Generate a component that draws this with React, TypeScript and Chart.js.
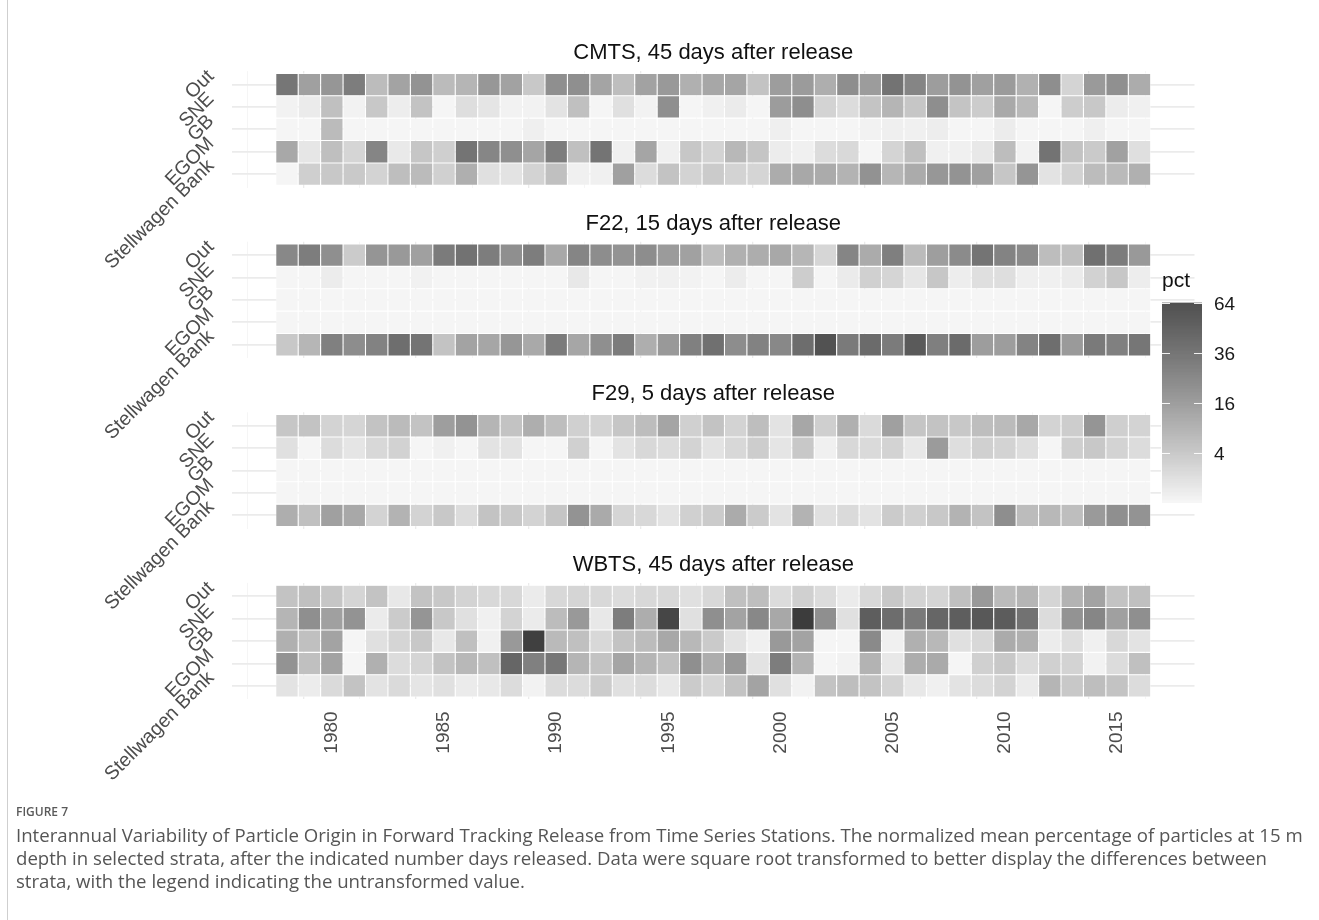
import React, { useEffect, useRef } from "react";
import { Chart, registerables } from "chart.js";

Chart.register(...registerables);

// ---------------- data ----------------
const years = [
  1978, 1979, 1980, 1981, 1982, 1983, 1984, 1985, 1986, 1987, 1988, 1989, 1990,
  1991, 1992, 1993, 1994, 1995, 1996, 1997, 1998, 1999, 2000, 2001, 2002, 2003,
  2004, 2005, 2006, 2007, 2008, 2009, 2010, 2011, 2012, 2013, 2014, 2015, 2016,
];
// bottom -> top
const strata = ["Stellwagen Bank", "EGOM", "GB", "SNE", "Out"];
const xGridYears = [
  1977.5, 1980, 1982.5, 1985, 1987.5, 1990, 1992.5, 1995, 1997.5, 2000, 2002.5,
  2005, 2007.5, 2010, 2012.5, 2015, 2017.5,
];
const xLabelYears = [1980, 1985, 1990, 1995, 2000, 2005, 2010, 2015];
const legendBreaks = [4, 16, 36, 64];
const legendMax = 64;

const panelTitles = [
  "CMTS, 45 days after release",
  "F22, 15 days after release",
  "F29, 5 days after release",
  "WBTS, 45 days after release",
];

// CMTS (pct)
const cmtsOut = [23.1, 9.8, 12.4, 20.4, 4.3, 9.1, 13.3, 4.5, 5.5, 12.1, 9.4, 2.7, 14.4, 14.4, 8.9, 4.0, 9.4, 11.6, 6.4, 8.2, 8.6, 3.3, 10.6, 11.1, 6.8, 14.8, 10.9, 24.3, 17.6, 10.6, 13.3, 9.8, 11.1, 6.2, 14.8, 1.4, 11.4, 14.1, 7.2];
const cmtsSNE = [0.01, 0.12, 3.7, 0.01, 2.7, 0.07, 3.3, 0, 0.65, 0.32, 0.01, 0.01, 0.42, 3.7, 0, 0.56, 0.01, 14.4, 0, 0.03, 0.12, 0, 10.9, 14.8, 1.5, 0.8, 3.1, 5.5, 2.9, 14.8, 3.1, 2.2, 7.8, 4.8, 0, 2.1, 2.7, 0.1, 0.03];
const cmtsGB = [0, 0, 4.5, 0, 0, 0, 0, 0, 0, 0, 0, 0.05, 0, 0, 0, 0, 0, 0, 0, 0, 0, 0, 0.05, 0, 0, 0, 0.01, 0.05, 0.03, 0.07, 0, 0, 0.1, 0, 0, 0, 0.05, 0, 0];
const cmtsEGOM = [8.0, 0.28, 3.85, 1.32, 17.6, 0.17, 2.9, 1.85, 24.0, 17.3, 14.4, 8.6, 20.4, 3.7, 24.0, 0.03, 8.6, 0.03, 2.8, 1.5, 4.9, 3.0, 0.1, 0.03, 0.8, 1.0, 0, 1.4, 3.7, 0.03, 0.03, 0.21, 4.15, 0.01, 24.3, 3.3, 2.4, 9.6, 0.6];
const cmtsSB = [0, 1.85, 2.7, 2.55, 1.5, 4.0, 4.45, 1.8, 6.6, 0.56, 0.42, 1.5, 3.7, 0.03, 0.03, 9.8, 0.8, 3.3, 1.5, 2.3, 1.5, 1.3, 7.2, 8.0, 7.4, 5.85, 13.6, 5.3, 7.4, 12.1, 13.3, 9.8, 2.9, 12.7, 0.42, 1.6, 4.3, 4.6, 6.4];

// F22 (pct)
const f22Out = [16.6, 20.4, 14.4, 2.3, 12.7, 11.6, 9.8, 21.2, 24.7, 20.4, 14.4, 20.4, 8.0, 17.6, 15.1, 13.3, 15.1, 11.1, 9.6, 4.15, 6.4, 7.0, 8.0, 5.3, 1.25, 17.6, 7.4, 19.8, 4.45, 10.3, 15.7, 24.0, 18.3, 16.0, 4.15, 3.85, 25.5, 20.8, 11.6];
const f22SNE = [0, 0, 0.1, 0, 0, 0, 0.02, 0, 0, 0, 0, 0, 0, 0.21, 0, 0, 0.02, 0.03, 0.01, 0, 0.1, 0, 0, 2.1, 0, 0.12, 1.8, 1.3, 0.28, 2.8, 0.08, 0.6, 0.65, 0.05, 0.03, 0.12, 1.6, 2.8, 0.07];
const f22GB = [0, 0, 0, 0, 0, 0, 0, 0, 0, 0, 0, 0, 0, 0, 0, 0, 0, 0, 0, 0, 0, 0, 0, 0, 0, 0, 0, 0, 0, 0, 0, 0, 0, 0, 0, 0, 0, 0, 0];
const f22EGOM = [0, 0, 0, 0, 0, 0, 0, 0, 0, 0, 0, 0, 0, 0, 0, 0, 0, 0, 0, 0, 0, 0, 0, 0, 0, 0, 0, 0, 0, 0, 0, 0, 0, 0, 0, 0, 0, 0, 0];
const f22SB = [2.7, 5.3, 19.4, 15.1, 18.6, 26.4, 24.0, 3.3, 9.1, 8.4, 12.4, 7.8, 21.2, 8.4, 14.4, 20.8, 6.8, 11.6, 19.4, 25.5, 15.1, 18.6, 16.6, 26.8, 39.8, 21.5, 27.7, 21.2, 35.6, 19.8, 27.7, 10.6, 10.6, 18.3, 26.4, 11.35, 21.5, 19.4, 23.1];

// F29 (pct)
const f29Out = [2.9, 3.3, 1.5, 1.3, 3.3, 4.45, 3.3, 10.3, 13.3, 5.45, 3.3, 6.8, 4.0, 1.8, 1.5, 2.9, 4.15, 8.6, 1.8, 3.3, 1.5, 4.0, 0.42, 8.2, 1.85, 6.4, 0.95, 9.8, 3.0, 3.3, 2.7, 4.0, 4.45, 8.0, 1.5, 2.1, 12.7, 1.85, 1.5];
const f29SNE = [0.56, 0, 0.8, 0.32, 1.1, 1.6, 0, 0.03, 0, 0.42, 0.42, 0, 0, 1.8, 0, 0.42, 1.1, 0.8, 1.5, 0.42, 1.1, 2.1, 0.32, 2.7, 0.03, 1.1, 0.95, 1.5, 0.21, 11.1, 0.7, 1.8, 1.5, 0.7, 0, 1.85, 2.7, 1.5, 0.8];
const f29GB = [0, 0, 0, 0, 0, 0, 0, 0, 0, 0, 0, 0, 0, 0, 0, 0, 0, 0, 0, 0, 0, 0, 0, 0, 0, 0, 0, 0, 0, 0, 0, 0, 0, 0, 0, 0, 0, 0, 0];
const f29EGOM = [0, 0, 0, 0, 0, 0, 0, 0, 0, 0, 0, 0, 0, 0, 0, 0, 0, 0, 0, 0, 0, 0, 0, 0, 0, 0, 0, 0, 0, 0, 0, 0, 0, 0, 0, 0, 0, 0, 0];
const f29SB = [6.8, 3.7, 9.8, 8.0, 1.5, 5.85, 1.5, 2.7, 0.8, 3.3, 2.7, 1.5, 3.0, 13.3, 7.6, 1.3, 1.1, 0.42, 1.8, 2.3, 7.4, 2.3, 0.42, 5.85, 0.56, 0.95, 0.42, 2.3, 1.8, 2.7, 5.85, 3.3, 14.8, 4.3, 4.9, 4.0, 11.35, 14.4, 13.3];

// WBTS (pct)
const wbtsOut = [3.3, 3.7, 2.9, 1.3, 3.3, 0.21, 3.3, 2.7, 1.5, 1.1, 1.1, 0.12, 1.1, 1.3, 1.1, 0.8, 1.1, 1.1, 0.56, 1.1, 3.7, 4.0, 0.8, 1.8, 0.8, 0.12, 1.1, 2.7, 1.5, 1.3, 3.7, 11.6, 4.45, 5.45, 1.3, 5.85, 9.1, 3.3, 3.7];
const wbtsSNE = [5.45, 14.4, 9.8, 13.3, 0.12, 2.3, 12.7, 2.7, 0.56, 0.03, 1.5, 0.12, 4.3, 11.6, 0.21, 20.4, 7.0, 46.8, 0.56, 14.4, 9.1, 16.6, 8.0, 53.2, 14.4, 0.56, 33.6, 26.8, 21.5, 29.8, 33.6, 36.8, 34.6, 24.7, 0.79, 13.3, 17.3, 9.8, 14.4];
const wbtsGB = [6.4, 3.7, 9.1, 0, 0.56, 1.3, 2.7, 0.21, 3.7, 0.03, 11.6, 50.5, 4.6, 3.7, 1.1, 3.3, 4.3, 8.0, 4.9, 2.4, 0.42, 0.03, 11.6, 9.1, 0, 0, 16.0, 0.03, 6.4, 4.9, 0.56, 1.1, 7.4, 6.4, 0.1, 0.65, 0.03, 1.1, 0.42];
const wbtsEGOM = [13.3, 3.7, 9.1, 0, 6.4, 0.8, 1.3, 3.3, 4.9, 3.7, 29.8, 19.4, 22.7, 5.45, 3.3, 8.6, 5.45, 3.7, 14.4, 7.0, 11.6, 0.42, 20.4, 5.85, 0, 0.01, 5.85, 0.21, 7.0, 7.6, 0, 1.8, 2.7, 0.8, 1.8, 1.5, 0.01, 0.8, 3.7];
const wbtsSB = [0.42, 0.1, 0.95, 3.3, 0.42, 0.95, 0.32, 0.56, 0.12, 0.21, 0.8, 0.01, 0.8, 0.8, 2.2, 0.56, 0.8, 0.21, 2.3, 1.3, 3.3, 9.1, 0.56, 0.01, 3.3, 4.0, 3.3, 1.5, 0.21, 0.03, 0.42, 0.8, 1.5, 0.12, 5.45, 2.7, 4.0, 3.3, 0.8];

// rows bottom -> top, matching `strata`
const panelRows = [
  [cmtsSB, cmtsEGOM, cmtsGB, cmtsSNE, cmtsOut],
  [f22SB, f22EGOM, f22GB, f22SNE, f22Out],
  [f29SB, f29EGOM, f29GB, f29SNE, f29Out],
  [wbtsSB, wbtsEGOM, wbtsGB, wbtsSNE, wbtsOut],
];

const captionLines = [
  "Interannual Variability of Particle Origin in Forward Tracking Release from Time Series Stations. The normalized mean percentage of particles at 15 m",
  "depth in selected strata, after the indicated number days released. Data were square root transformed to better display the differences between",
  "strata, with the legend indicating the untransformed value.",
];

// ---------------- layout / style ----------------
const W = 1319;
const H = 920;
const PLOT_LEFT = 232;
const PLOT_RIGHT = 1194.5;
const PANEL_TOPS = [71.1, 241.7, 412.3, 582.9];
const PANEL_H = 116.5;
const X_MIN = 1975.55;
const X_MAX = 2018.45;
const Y_MIN = 0.4;
const Y_MAX = 5.6;
const FONT = '"Liberation Sans", Arial, Helvetica, sans-serif';

// sqrt-transformed gray gradient, interpolated in CIE L*
const L_LOW = 96.5;
const L_HIGH = 18.4;
function fillFor(pct: number): string {
  const t = Math.min(1, Math.sqrt(Math.max(0, pct)) / Math.sqrt(legendMax));
  const L = L_LOW + (L_HIGH - L_LOW) * t;
  const fy = (L + 16) / 116;
  const Y = L > 8 ? fy * fy * fy : L / 903.3;
  const s = Y <= 0.0031308 ? 12.92 * Y : 1.055 * Math.pow(Y, 1 / 2.4) - 0.055;
  const g = Math.max(0, Math.min(255, Math.round(255 * s)));
  return `rgb(${g},${g},${g})`;
}

function titlePlugin(title: string) {
  return {
    id: "panelTitle",
    afterDraw(chart: any) {
      const { ctx, chartArea } = chart;
      ctx.save();
      ctx.font = `22px ${FONT}`;
      ctx.fillStyle = "#111111";
      ctx.textAlign = "center";
      ctx.textBaseline = "alphabetic";
      ctx.fillText(title, (chartArea.left + chartArea.right) / 2, chartArea.top - 12);
      ctx.restore();
    },
  };
}

const legendPlugin = {
  id: "pctColorbar",
  afterDraw(chart: any) {
    const { ctx } = chart;
    const x0 = 1162;
    const x1 = 1202;
    const yZero = 502.7;
    const unit = 25; // px per sqrt unit
    const yTop = yZero - Math.sqrt(legendMax) * unit;
    ctx.save();
    ctx.fillStyle = "#ffffff";
    ctx.fillRect(x0 - 1, yTop - 1, x1 - x0 + 2, yZero - yTop + 2);
    for (let y = yTop; y < yZero; y += 1) {
      const s = (yZero - y - 0.5) / unit;
      ctx.fillStyle = fillFor(s * s);
      ctx.fillRect(x0, y, x1 - x0, 1.05);
    }
    ctx.strokeStyle = "rgba(255,255,255,0.9)";
    ctx.lineWidth = 1;
    ctx.font = `19px ${FONT}`;
    ctx.fillStyle = "#1a1a1a";
    ctx.textAlign = "left";
    ctx.textBaseline = "middle";
    legendBreaks.forEach((b) => {
      const y = Math.round(yZero - Math.sqrt(b) * unit) + 0.5;
      ctx.beginPath();
      ctx.moveTo(x0, y);
      ctx.lineTo(x0 + 8, y);
      ctx.moveTo(x1 - 8, y);
      ctx.lineTo(x1, y);
      ctx.stroke();
      ctx.fillText(String(b), 1214, y + 1);
    });
    ctx.font = `21px ${FONT}`;
    ctx.fillStyle = "#111111";
    ctx.textBaseline = "alphabetic";
    ctx.fillText("pct", 1162, 287);
    ctx.restore();
  },
};

function makeConfig(i: number): any {
  const isLast = i === panelRows.length - 1;
  const yAxisW = 212;
  const xAxisH = isLast ? 90 : 0;
  const top = PANEL_TOPS[i];
  const plugins: any[] = [titlePlugin(panelTitles[i])];
  if (isLast) plugins.push(legendPlugin);
  return {
    type: "bar",
    data: {
      datasets: strata.map((name, r) => ({
        label: name,
        data: years.map((yr) => ({ x: yr, y: [r + 0.5, r + 1.5] })),
        backgroundColor: panelRows[i][r].map(fillFor),
        borderColor: "#ffffff",
        borderWidth: 0.55,
        borderSkipped: false,
        grouped: false,
        barPercentage: 1,
        categoryPercentage: 1,
        inflateAmount: 0,
      })),
    },
    options: {
      responsive: false,
      animation: false,
      devicePixelRatio: 1,
      events: [],
      layout: {
        padding: {
          left: PLOT_LEFT - yAxisW,
          right: W - PLOT_RIGHT,
          top,
          bottom: H - top - PANEL_H - xAxisH,
        },
      },
      plugins: {
        legend: { display: false },
        tooltip: { enabled: false },
        title: { display: false },
      },
      scales: {
        x: {
          type: "linear",
          min: X_MIN,
          max: X_MAX,
          offset: false,
          afterBuildTicks: (s: any) => {
            s.ticks = xGridYears.map((v) => ({ value: v }));
          },
          afterFit: (s: any) => {
            s.height = xAxisH;
          },
          ticks: {
            display: isLast,
            autoSkip: false,
            minRotation: 90,
            maxRotation: 90,
            padding: 12,
            color: "#4d4d4d",
            font: { family: FONT, size: 19 },
            callback: (v: any) => (xLabelYears.includes(Number(v)) ? String(v) : ""),
          },
          grid: {
            drawTicks: false,
            color: (c: any) =>
              c.tick && xLabelYears.includes(c.tick.value) ? "#ebebeb" : "#f2f2f2",
            lineWidth: (c: any) =>
              c.tick && xLabelYears.includes(c.tick.value) ? 1.3 : 0.8,
          },
          border: { display: false },
        },
        y: {
          type: "linear",
          min: Y_MIN,
          max: Y_MAX,
          afterBuildTicks: (s: any) => {
            s.ticks = strata.map((_, k) => ({ value: k + 1 }));
          },
          afterFit: (s: any) => {
            s.width = yAxisW;
          },
          ticks: {
            autoSkip: false,
            minRotation: 45,
            maxRotation: 45,
            padding: 21,
            labelOffset: -11,
            color: "#4d4d4d",
            font: { family: FONT, size: 19.5 },
            callback: (v: any) => strata[Number(v) - 1] ?? "",
          },
          grid: { drawTicks: false, color: "#ebebeb", lineWidth: 1.8 },
          border: { display: false },
        },
      },
    },
    plugins,
  };
}

function Panel({ index }: { index: number }) {
  const ref = useRef<HTMLCanvasElement | null>(null);
  useEffect(() => {
    if (!ref.current) return;
    const chart = new Chart(ref.current, makeConfig(index));
    return () => chart.destroy();
  }, [index]);
  return (
    <canvas
      ref={ref}
      width={W}
      height={H}
      style={{ position: "absolute", left: 0, top: 0, width: W, height: H }}
    />
  );
}

function captionFontSize(): number {
  try {
    const c = document.createElement("canvas");
    const ctx = c.getContext("2d");
    if (!ctx) return 15.5;
    ctx.font = '16px "Open Sans"';
    const w = ctx.measureText(captionLines[0]).width;
    return (16 * 1287) / w;
  } catch {
    return 15.5;
  }
}

export default function App() {
  const capSize = captionFontSize();
  return (
    <div
      style={{
        position: "absolute",
        left: 0,
        top: 0,
        width: W,
        height: H,
        background: "#ffffff",
        overflow: "hidden",
      }}
    >
      <div style={{ position: "absolute", left: 7, top: 0, width: 1, height: H, background: "#cfcfcf" }} />
      {panelRows.map((_, i) => (
        <Panel key={i} index={i} />
      ))}
      <div
        style={{
          position: "absolute",
          left: 16,
          top: 803,
          fontFamily: '"Open Sans", sans-serif',
          fontWeight: 600,
          fontSize: 12,
          lineHeight: "18px",
          color: "#5a5a5a",
          whiteSpace: "nowrap",
        }}
      >
        FIGURE 7
      </div>
      {captionLines.map((line, i) => (
        <div
          key={i}
          style={{
            position: "absolute",
            left: 16,
            top: 823 + 23 * i,
            fontFamily: '"Open Sans", sans-serif',
            fontSize: capSize,
            lineHeight: "23px",
            color: "#555555",
            whiteSpace: "nowrap",
          }}
        >
          {line}
        </div>
      ))}
    </div>
  );
}
